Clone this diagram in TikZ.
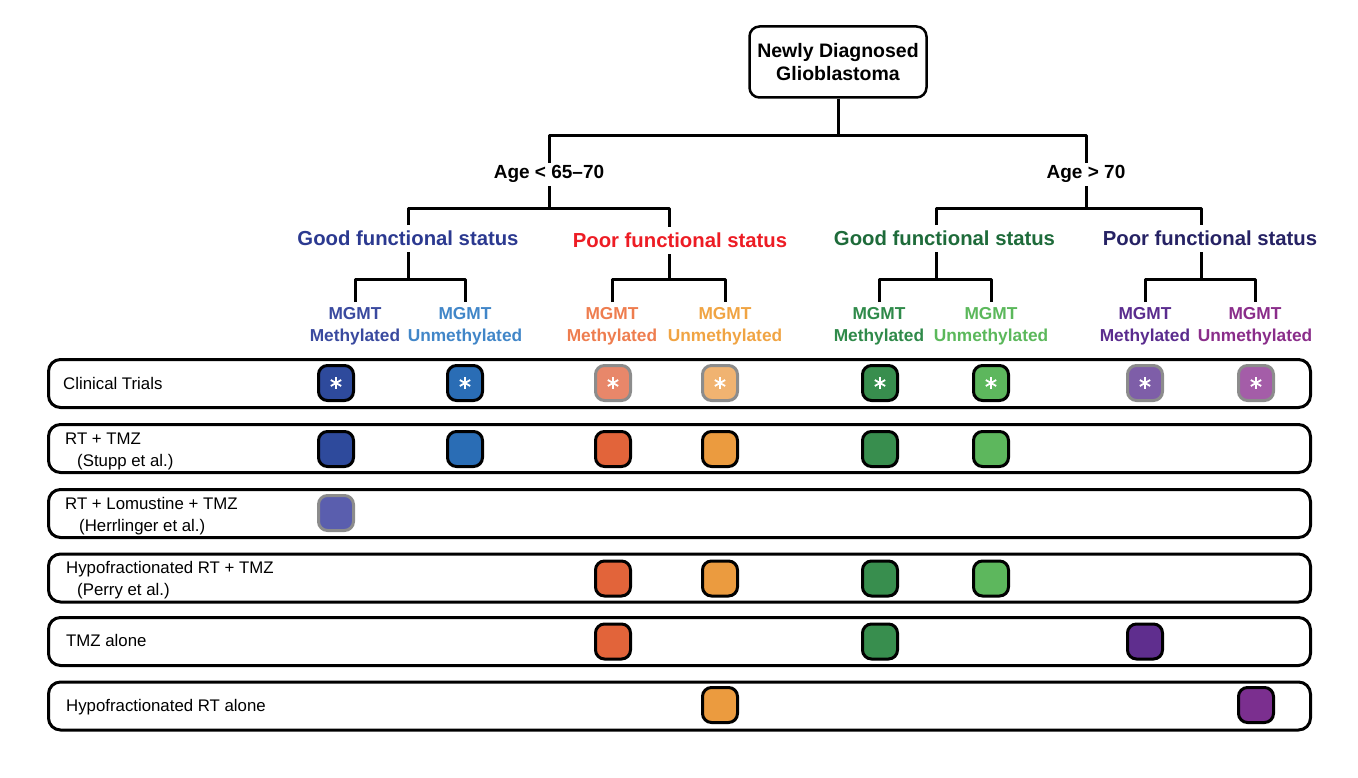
\documentclass[tikz,border=0pt]{standalone}
\usepackage{fontspec}
\setmainfont{Liberation Sans}
\usepackage{tikz}
\definecolor{goodY}{HTML}{2B3990}
\definecolor{poorY}{HTML}{ED1C24}
\definecolor{goodO}{HTML}{1E6B3A}
\definecolor{poorO}{HTML}{262264}
\definecolor{lab1}{HTML}{3A4A9F}
\definecolor{lab2}{HTML}{4186C8}
\definecolor{lab3}{HTML}{EE7D4F}
\definecolor{lab4}{HTML}{F0A443}
\definecolor{lab5}{HTML}{2F8A4A}
\definecolor{lab6}{HTML}{5BB85B}
\definecolor{lab7}{HTML}{5A2C8E}
\definecolor{lab8}{HTML}{8A2D8A}
\definecolor{c1}{HTML}{2E4A9C}
\definecolor{c1l}{HTML}{5A5EAE}
\definecolor{c2}{HTML}{2A6DB5}
\definecolor{c3}{HTML}{E2643A}
\definecolor{c3l}{HTML}{E8876A}
\definecolor{c4}{HTML}{EB9B3F}
\definecolor{c4l}{HTML}{F0B371}
\definecolor{c5}{HTML}{388E4E}
\definecolor{c6}{HTML}{5DB75D}
\definecolor{c7}{HTML}{5F2E8E}
\definecolor{c7l}{HTML}{7E5EA8}
\definecolor{c8}{HTML}{7B2F8F}
\definecolor{c8l}{HTML}{A45DA8}
\definecolor{boxgray}{HTML}{8C8C8C}

\begin{document}
\begin{tikzpicture}[x=1pt, y=-1pt,
  tree/.style={line width=3pt, line join=round},
  topbox/.style={draw, line width=2.5pt, rounded corners=10pt, minimum width=177pt, minimum height=71pt, align=center, font=\bfseries\fontsize{19.5}{23}\selectfont},
  age/.style={anchor=base, inner sep=3pt, font=\bfseries\fontsize{19}{23}\selectfont},
  fstat/.style={anchor=base, inner xsep=3pt, inner ysep=6pt, font=\bfseries\fontsize{20.3}{24}\selectfont},
  mgmt/.style={anchor=north, inner xsep=2pt, inner ysep=5pt, align=center, font=\bfseries\fontsize{17.3}{22}\selectfont},
  row/.style={draw, line width=3pt, rounded corners=12pt, minimum width=1262pt, minimum height=48pt},
  rowtext/.style={anchor=north west, inner sep=0pt, align=left, font=\fontsize{16.8}{22}\selectfont},
  sq/.style={draw, line width=3pt, rounded corners=9pt, minimum size=35pt, inner sep=0pt},
  pale/.style={draw=boxgray},
  star/.style={path picture={\foreach \a in {90,30,150} \draw[white, line width=1.8pt] ([shift={(\a:6pt)}]path picture bounding box.center) -- ([shift={(\a+180:6pt)}]path picture bounding box.center);}}
]
\useasboundingbox (0,0) rectangle (1358,778);

% decision tree
\node[topbox] (root) at (838,62) {Newly Diagnosed\\Glioblastoma};
\node[age] (young) at (549,179) {Age < 65–70};
\node[age] (old) at (1086,179) {Age > 70};

\node[fstat, text=goodY] (gY) at (408,246) {Good functional status};
\node[fstat, text=poorY] (pY) at (680,248) {Poor functional status};
\node[fstat, text=goodO] (gO) at (944.5,246) {Good functional status};
\node[fstat, text=poorO] (pO) at (1210,246) {Poor functional status};

\node[mgmt, text=lab1] (m1) at (355,302) {MGMT\\Methylated};
\node[mgmt, text=lab2] (m2) at (465,302) {MGMT\\Unmethylated};
\node[mgmt, text=lab3] (m3) at (612,302) {MGMT\\Methylated};
\node[mgmt, text=lab4] (m4) at (725,302) {MGMT\\Unmethylated};
\node[mgmt, text=lab5] (m5) at (879,302) {MGMT\\Methylated};
\node[mgmt, text=lab6] (m6) at (991,302) {MGMT\\Unmethylated};
\node[mgmt, text=lab7] (m7) at (1145,302) {MGMT\\Methylated};
\node[mgmt, text=lab8] (m8) at (1255,302) {MGMT\\Unmethylated};

\draw[tree] (root.south) -- ++(0,37) coordinate (b0);
\draw[tree] (young.north) |- (b0) -| (old.north);

\draw[tree] (young.south) -- ++(0,22) coordinate (bY);
\draw[tree] (gY.north) |- (bY) -| ([xshift=-11pt]pY.north);
\draw[tree] (old.south) -- ++(0,22) coordinate (bO);
\draw[tree] ([xshift=-8.5pt]gO.north) |- (bO) -| ([xshift=-9pt]pO.north);

\draw[tree] (gY.south) -- ++(0,27) coordinate (b1);
\draw[tree] (m1.north) |- (b1) -| (m2.north);
\draw[tree] ([xshift=-11pt]pY.south) -- ++(0,25) coordinate (b2);
\draw[tree] (m3.north) |- (b2) -| (m4.north);
\draw[tree] ([xshift=-8.5pt]gO.south) -- ++(0,27) coordinate (b3);
\draw[tree] (m5.north) |- (b3) -| (m6.north);
\draw[tree] ([xshift=-9pt]pO.south) -- ++(0,27) coordinate (b4);
\draw[tree] (m7.north) |- (b4) -| (m8.north);

% treatment rows
\node[row] (R1) at (679.5,383.5) {};
\node[row] (R2) at (679.5,448.5) {};
\node[row] (R3) at (679.5,513.5) {};
\node[row] (R4) at (679.5,578) {};
\node[row] (R5) at (679.5,641.5) {};
\node[row] (R6) at (679.5,706) {};

\node[rowtext] (t1) at (63,377.3) {Clinical Trials};
\node[rowtext] (t2) at (65,432.5) {RT + TMZ\\\hspace*{12pt}(Stupp et al.)};
\node[rowtext] (t3) at (65,497.5) {RT + Lomustine + TMZ\\\hspace*{14pt}(Herrlinger et al.)};
\node[rowtext] (t4) at (66,561.3) {Hypofractionated RT + TMZ\\\hspace*{11pt}(Perry et al.)};
\node[rowtext] (t5) at (66,634) {TMZ alone};
\node[rowtext] (t6) at (66,699) {Hypofractionated RT alone};

% clinical trials
\node[sq, star, fill=c1] (s11) at (336,383) {};
\node[sq, star, fill=c2] (s12) at (465,383) {};
\node[sq, star, pale, fill=c3l] (s13) at (613,383) {};
\node[sq, star, pale, fill=c4l] (s14) at (720,383) {};
\node[sq, star, fill=c5] (s15) at (880,383) {};
\node[sq, star, fill=c6] (s16) at (991,383) {};
\node[sq, star, pale, fill=c7l] (s17) at (1145,383) {};
\node[sq, star, pale, fill=c8l] (s18) at (1256,383) {};
% RT + TMZ
\node[sq, fill=c1] (s21) at (336,449) {};
\node[sq, fill=c2] (s22) at (465,449) {};
\node[sq, fill=c3] (s23) at (613,449) {};
\node[sq, fill=c4] (s24) at (720,449) {};
\node[sq, fill=c5] (s25) at (880,449) {};
\node[sq, fill=c6] (s26) at (991,449) {};
% RT + Lomustine + TMZ
\node[sq, pale, fill=c1l] (s31) at (336,513) {};
% hypofractionated RT + TMZ
\node[sq, fill=c3] (s43) at (613,578.5) {};
\node[sq, fill=c4] (s44) at (720,578.5) {};
\node[sq, fill=c5] (s45) at (880,578.5) {};
\node[sq, fill=c6] (s46) at (991,578.5) {};
% TMZ alone
\node[sq, fill=c3] (s53) at (613,641.5) {};
\node[sq, fill=c5] (s55) at (880,641.5) {};
\node[sq, fill=c7] (s57) at (1145,641.5) {};
% hypofractionated RT alone
\node[sq, fill=c4] (s64) at (720,705) {};
\node[sq, fill=c8] (s68) at (1256,705) {};
\end{tikzpicture}
\end{document}
